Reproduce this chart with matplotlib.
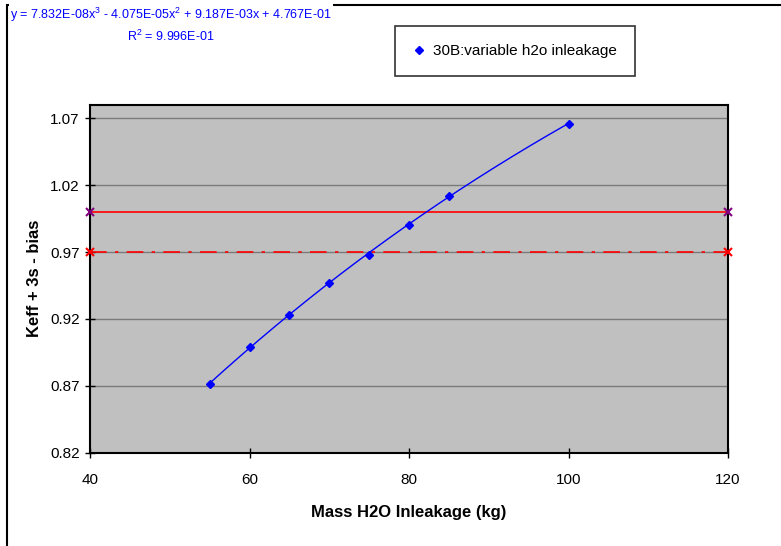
import numpy as np
import matplotlib
matplotlib.use("Agg")
import matplotlib.pyplot as plt
from matplotlib.patches import Rectangle

plt.rcParams['font.family'] = ['Liberation Sans', 'DejaVu Sans']
plt.rcParams['mathtext.default'] = 'regular'

# data
mass = [55, 60, 65, 70, 75, 80, 85, 100]
keff = [0.871, 0.899, 0.923, 0.947, 0.968, 0.990, 1.012, 1.066]
coef = [7.832e-08, -4.075e-05, 9.187e-03, 4.767e-01]
limit_x = [40, 120]
limit_hi = [1.00, 1.00]
limit_lo = [0.97, 0.97]
xticks = [40, 60, 80, 100, 120]
yticks = [0.82, 0.87, 0.92, 0.97, 1.02, 1.07]
series_label = "30B:variable h2o inleakage"
eq_text = ("y = 7.832E-08x$^{3}$ - 4.075E-05x$^{2}$ + 9.187E-03x + 4.767E-01\n"
           "R$^{2}$ = 9.996E-01")

fig = plt.figure(figsize=(7.81, 5.46), dpi=100)
ax = fig.add_axes([90/781, 1 - 452.5/546, (728-90)/781, (452.5-105)/546])
ax.set_facecolor('#C0C0C0')

ax.set_xlim(40, 120)
ax.set_ylim(0.82, 1.08)
ax.set_xticks(xticks)
ax.set_yticks(yticks)
ax.set_yticklabels([f"{v:.2f}" for v in yticks])
ax.tick_params(axis='both', direction='inout', length=7, width=1, labelsize=11, pad=4)
ax.tick_params(axis='x', pad=11)
for s in ax.spines.values():
    s.set_linewidth(1.5)
    s.set_color('black')
ax.yaxis.grid(True, color='#7a7a7a', linewidth=1.0, linestyle='-')
ax.set_axisbelow(True)

# limit lines
ax.plot(limit_x, limit_hi, color='red', lw=1.2, marker='x', mec='#800080', ms=6, mew=1.5,
        clip_on=False, zorder=3)
ax.plot(limit_x, limit_lo, color='red', lw=1.2, linestyle=(0, (10, 5, 2, 5)), marker='x',
        mec='red', ms=6, mew=1.5, clip_on=False, zorder=3)

# trendline from equation
xt = np.linspace(min(mass), max(mass), 200)
ax.plot(xt, np.polyval(coef, xt), color='blue', lw=1.0, zorder=4)

# data points
ax.plot(mass, keff, linestyle='none', marker='D', color='blue', ms=4.5, zorder=5,
        label=series_label)

ax.set_xlabel("Mass H2O Inleakage (kg)", fontsize=12, fontweight='bold', labelpad=13)
ax.set_ylabel("Keff + 3s - bias", fontsize=12, fontweight='bold', labelpad=6)

# figure border
fig.patches.append(Rectangle((7.5/781, -0.05), 1.1, (546-5)/546 + 0.05,
                             transform=fig.transFigure, fill=False, edgecolor='black',
                             linewidth=1.5))

# equation text
fig.text(171/781, 1 - 6/546, eq_text, ha='center', va='top', fontsize=9, color='blue',
         linespacing=1.35,
         bbox=dict(facecolor='white', edgecolor='none', pad=1))

# legend
leg = fig.legend(handles=ax.get_lines()[-1:], labels=[series_label],
                 loc='center', bbox_to_anchor=(515/781, 1 - 51/546),
                 fontsize=11, frameon=True, fancybox=False, handlelength=0.8,
                 handletextpad=0.5, borderpad=1.2, borderaxespad=0)
leg.get_frame().set_edgecolor('black')
leg.get_frame().set_linewidth(1.2)

fig.savefig("out.png", dpi=100)
